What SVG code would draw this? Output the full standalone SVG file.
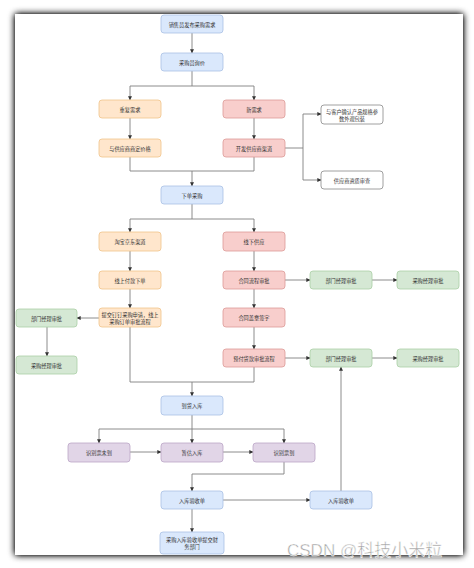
<svg xmlns="http://www.w3.org/2000/svg" width="474" height="568" viewBox="0 0 474 568">
<defs>
<filter id="sh" x="-5%" y="-5%" width="110%" height="110%">
<feGaussianBlur in="SourceAlpha" stdDeviation="3.5"/>
<feComponentTransfer><feFuncA type="linear" slope="1.4"/></feComponentTransfer>
<feMerge><feMergeNode/><feMergeNode in="SourceGraphic"/></feMerge>
</filter>
<marker id="ar" viewBox="0 0 6 6" refX="5.5" refY="3" markerWidth="4" markerHeight="4" orient="auto" markerUnits="userSpaceOnUse">
<path d="M0,0 L6,3 L0,6 Z" fill="#333"/>
</marker>
</defs>
<style>
.n rect{stroke-width:0.8}
.blue rect{fill:#dae8fc;stroke:#a9c0e4}
.org rect{fill:#ffe6cc;stroke:#f0c48a}
.red rect{fill:#f8cecc;stroke:#dc9a98}
.grn rect{fill:#d5e8d4;stroke:#abcfa6}
.pur rect{fill:#e1d5e7;stroke:#bba6c6}
.wht rect{fill:#ffffff;stroke:#888}
text{font-family:"Noto Sans CJK SC","Noto Sans",sans-serif;font-size:5.2px;fill:#333;text-anchor:middle;dominant-baseline:central}
.c path,.c line,.c polyline{fill:none;stroke:#808080;stroke-width:0.9}
.wm{font-family:"Liberation Sans","Noto Sans CJK SC",sans-serif;font-size:17px;fill:#a0a0a0;stroke:#ffffff;stroke-width:0.5;text-anchor:start;dominant-baseline:auto}
</style>
<rect x="0" y="0" width="474" height="568" fill="#ffffff"/>
<rect x="15" y="14" width="448" height="541" fill="#ffffff" filter="url(#sh)"/>

<g class="c">
<line x1="192" y1="33" x2="192" y2="53" marker-end="url(#ar)"/>
<polyline points="192,71 192,86 130,86 130,100" marker-end="url(#ar)"/>
<polyline points="192,86 254,86 254,100" marker-end="url(#ar)"/>
<line x1="130" y1="118" x2="130" y2="139" marker-end="url(#ar)"/>
<line x1="254" y1="118" x2="254" y2="139" marker-end="url(#ar)"/>
<polyline points="284,148 303,148 303,114 321,114" marker-end="url(#ar)"/>
<polyline points="303,148 303,180 321,180" marker-end="url(#ar)"/>
<polyline points="130,157 130,171 254,171 254,157"/>
<line x1="192" y1="171" x2="192" y2="186" marker-end="url(#ar)"/>
<polyline points="192,204 192,219 130,219 130,232" marker-end="url(#ar)"/>
<polyline points="192,219 254,219 254,232" marker-end="url(#ar)"/>
<line x1="130" y1="251" x2="130" y2="271" marker-end="url(#ar)"/>
<line x1="254" y1="251" x2="254" y2="271" marker-end="url(#ar)"/>
<line x1="130" y1="289" x2="130" y2="308" marker-end="url(#ar)"/>
<line x1="254" y1="289" x2="254" y2="308" marker-end="url(#ar)"/>
<line x1="284" y1="280" x2="310" y2="280" marker-end="url(#ar)"/>
<line x1="372" y1="280" x2="397" y2="280" marker-end="url(#ar)"/>
<line x1="99" y1="318" x2="77" y2="318" marker-end="url(#ar)"/>
<line x1="47" y1="327" x2="47" y2="356" marker-end="url(#ar)"/>
<line x1="254" y1="327" x2="254" y2="349" marker-end="url(#ar)"/>
<line x1="284" y1="358" x2="310" y2="358" marker-end="url(#ar)"/>
<line x1="372" y1="358" x2="397" y2="358" marker-end="url(#ar)"/>
<polyline points="130,327 130,382 254,382 254,367"/>
<line x1="192" y1="382" x2="192" y2="396" marker-end="url(#ar)"/>
<polyline points="192,415 192,429 99,429 99,443" marker-end="url(#ar)"/>
<line x1="192" y1="429" x2="192" y2="443" marker-end="url(#ar)"/>
<polyline points="192,429 284,429 284,443" marker-end="url(#ar)"/>
<line x1="130" y1="452" x2="161" y2="452" marker-end="url(#ar)"/>
<line x1="222" y1="452" x2="253" y2="452" marker-end="url(#ar)"/>
<polyline points="284,462 284,474 192,474 192,491" marker-end="url(#ar)"/>
<line x1="222" y1="500" x2="310" y2="500" marker-end="url(#ar)"/>
<line x1="341" y1="491" x2="341" y2="367" marker-end="url(#ar)"/>
<line x1="192" y1="509" x2="192" y2="532" marker-end="url(#ar)"/>
</g>

<g id="n1" class="n blue"><rect x="161" y="15" width="62" height="18" rx="3"/><text x="192" y="24">销售员发布采购需求</text></g>
<g id="n2" class="n blue"><rect x="161" y="53" width="62" height="18" rx="3"/><text x="192" y="62">采购员询价</text></g>
<g id="n3" class="n org"><rect x="99" y="100" width="62" height="18" rx="3"/><text x="130" y="109">重复需求</text></g>
<g id="n4" class="n red"><rect x="223" y="100" width="62" height="18" rx="3"/><text x="254" y="109">新需求</text></g>
<g id="n5" class="n org"><rect x="99" y="139" width="62" height="18" rx="3"/><text x="130" y="148">与供应商商定价格</text></g>
<g id="n6" class="n red"><rect x="223" y="139" width="62" height="18" rx="3"/><text x="254" y="148">开发供应商渠道</text></g>
<g id="n7" class="n wht"><rect x="321" y="105" width="62" height="19" rx="3"/><text x="352" y="111.5">与客户确认产品规格参</text><text x="352" y="118">数外观包装</text></g>
<g id="n8" class="n wht"><rect x="321" y="171" width="62" height="18" rx="3"/><text x="352" y="180">供应商资质审查</text></g>
<g id="n9" class="n blue"><rect x="161" y="186" width="62" height="18" rx="3"/><text x="192" y="195">下单采购</text></g>
<g id="n10" class="n org"><rect x="99" y="232" width="62" height="19" rx="3"/><text x="130" y="241.5">淘宝京东渠道</text></g>
<g id="n11" class="n red"><rect x="223" y="232" width="62" height="19" rx="3"/><text x="254" y="241.5">线下供应</text></g>
<g id="n12" class="n org"><rect x="99" y="271" width="62" height="18" rx="3"/><text x="130" y="280">线上付款下单</text></g>
<g id="n13" class="n red"><rect x="223" y="271" width="62" height="18" rx="3"/><text x="254" y="280">合同流程审批</text></g>
<g id="n14" class="n grn"><rect x="310" y="271" width="62" height="18" rx="3"/><text x="341" y="280">部门经理审批</text></g>
<g id="n15" class="n grn"><rect x="397" y="271" width="62" height="18" rx="3"/><text x="428" y="280">采购经理审批</text></g>
<g id="n16" class="n org"><rect x="99" y="308" width="62" height="19" rx="3"/><text x="130" y="314.5">提交钉钉采购申请，线上</text><text x="130" y="321">采购订单审批流程</text></g>
<g id="n17" class="n red"><rect x="223" y="308" width="62" height="19" rx="3"/><text x="254" y="317.5">合同盖章签字</text></g>
<g id="n18" class="n grn"><rect x="16" y="309" width="61" height="18" rx="3"/><text x="46.5" y="318">部门经理审批</text></g>
<g id="n19" class="n grn"><rect x="16" y="356" width="61" height="18" rx="3"/><text x="46.5" y="365">采购经理审批</text></g>
<g id="n20" class="n red"><rect x="223" y="349" width="62" height="18" rx="3"/><text x="254" y="358">预付货款审批流程</text></g>
<g id="n21" class="n grn"><rect x="310" y="349" width="62" height="18" rx="3"/><text x="341" y="358">部门经理审批</text></g>
<g id="n22" class="n grn"><rect x="397" y="349" width="62" height="18" rx="3"/><text x="428" y="358">采购经理审批</text></g>
<g id="n23" class="n blue"><rect x="161" y="396" width="62" height="19" rx="3"/><text x="192" y="405.5">到货入库</text></g>
<g id="n24" class="n pur"><rect x="68" y="443" width="62" height="19" rx="3"/><text x="99" y="452.5">识别票未到</text></g>
<g id="n25" class="n pur"><rect x="161" y="443" width="62" height="19" rx="3"/><text x="192" y="452.5">暂估入库</text></g>
<g id="n26" class="n pur"><rect x="253" y="443" width="62" height="19" rx="3"/><text x="284" y="452.5">识别票到</text></g>
<g id="n27" class="n blue"><rect x="161" y="491" width="62" height="18" rx="3"/><text x="192" y="500">入库验收单</text></g>
<g id="n28" class="n blue"><rect x="310" y="491" width="62" height="18" rx="3"/><text x="341" y="500">入库验收单</text></g>
<g id="n29" class="n blue"><rect x="160" y="532" width="64" height="22" rx="3"/><text x="192" y="539">采购入库验收单提交财</text><text x="192" y="546">务部门</text></g>

<text class="wm" x="287" y="556">CSDN @科技小米粒</text>
</svg>
